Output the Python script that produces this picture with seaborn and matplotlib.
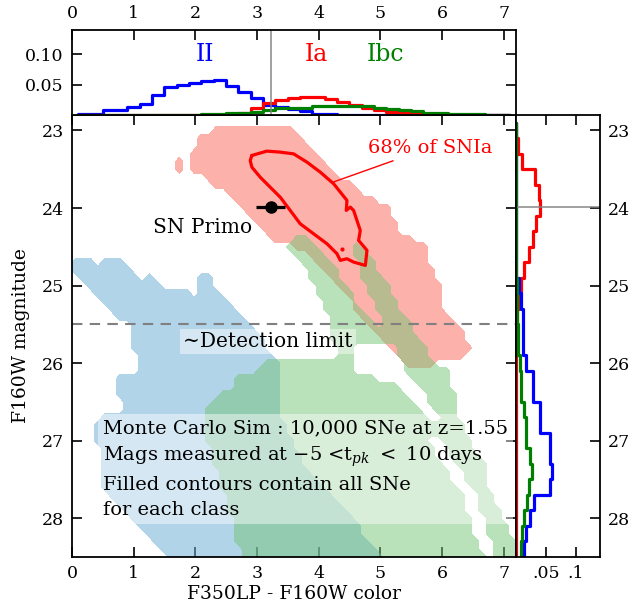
"""
Colour-magnitude plane of simulated SNe at z=1.55 with SN Primo,
plus marginal histograms of colour (top) and F160W magnitude (right).
Saves out.png
"""

import numpy as np
import matplotlib

matplotlib.use("Agg")
import matplotlib.pyplot as plt
from matplotlib.path import Path
import seaborn as sns

# ------------------------------#
# Data

# Marginal colour histogram (F350LP - F160W), bins of 0.2 mag
color_edges = np.arange(0.1, 7.15, 0.2)
ii_color = [0.0017, 0.0017, 0.008, 0.008, 0.0128, 0.018, 0.033, 0.0456, 0.050,
            0.053, 0.0556, 0.057, 0.047, 0.038, 0.028, 0.0167, 0.0139, 0.010,
            0.0067, 0.0017, 0.0008, 0.0006, 0.0004, 0.0003, 0.0002, 0.0001,
            0.0001, 0.0, 0.0, 0.0, 0.0, 0.0, 0.0, 0.0, 0.0]
ia_color = [0.0, 0.0, 0.0, 0.0, 0.0, 0.0, 0.0, 0.0, 0.0, 0.0, 0.0002, 0.0005,
            0.002, 0.004, 0.011, 0.019, 0.024, 0.028, 0.029, 0.029, 0.027,
            0.021, 0.0167, 0.012, 0.008, 0.0056, 0.003, 0.002, 0.001, 0.0005,
            0.0003, 0.0002, 0.0001, 0.0, 0.0]
ibc_color = [0.0, 0.0, 0.0, 0.0, 0.0, 0.0, 0.0, 0.0, 0.0, 0.0003, 0.001, 0.0015,
             0.003, 0.004, 0.0056, 0.009, 0.011, 0.012, 0.012, 0.014, 0.015,
             0.015, 0.0156, 0.014, 0.012, 0.010, 0.0085, 0.007, 0.004, 0.003,
             0.0017, 0.0012, 0.0008, 0.0005, 0.0003]

# Marginal F160W magnitude histogram, bins of 0.2 mag
mag_edges = np.arange(22.9, 28.55, 0.2)
ia_mag = [0.0003, 0.003, 0.010, 0.031, 0.039, 0.0405, 0.034, 0.028, 0.021,
          0.014, 0.008, 0.0045, 0.002, 0.001, 0.0008, 0.0006, 0.0005, 0.0004,
          0.0004, 0.0003, 0.0003, 0.0003, 0.0002, 0.0002, 0.0002, 0.0002,
          0.0002, 0.0002]
ii_mag = [0.0, 0.0, 0.0, 0.0, 0.0, 0.0, 0.0, 0.0, 0.0, 0.0, 0.005, 0.008,
          0.0117, 0.0117, 0.0117, 0.017, 0.029, 0.029, 0.0405, 0.0405, 0.056,
          0.056, 0.060, 0.056, 0.0295, 0.023, 0.017, 0.014]
ibc_mag = [0.0, 0.0, 0.0, 0.0, 0.0, 0.0, 0.0, 0.0, 0.0, 0.0005, 0.002, 0.002,
           0.002, 0.003, 0.003, 0.006, 0.008, 0.008, 0.014, 0.017, 0.017,
           0.023, 0.027, 0.021, 0.018, 0.014, 0.010, 0.008]

# Outlines (colour, magnitude) of the regions holding all simulated SNe
ia_regions = [
    [(1.92, 23.3), (2.1, 23.05), (2.3, 22.97), (3.55, 22.97), (3.75, 23.15),
     (4.3, 23.55), (4.6, 23.75), (5.2, 24.05), (5.25, 24.35), (5.7, 24.45),
     (5.8, 24.75), (5.95, 24.95), (6.0, 25.3), (6.3, 25.55), (6.45, 25.8),
     (6.3, 26.0), (5.9, 25.95), (5.7, 26.1), (5.45, 26.0), (5.05, 25.7),
     (4.5, 25.2), (3.85, 24.6), (3.5, 24.45), (3.2, 24.38), (3.05, 24.2),
     (2.75, 24.0), (2.45, 23.78), (2.1, 23.55), (1.92, 23.5)],
    [(1.58, 23.45), (1.72, 23.32), (1.86, 23.45), (1.72, 23.58)],
]
ii_regions = [
    [(0.05, 24.7), (0.15, 24.62), (0.35, 24.7), (0.5, 24.72), (0.65, 24.62),
     (0.75, 24.65), (1.1, 24.97), (1.3, 24.88), (1.6, 25.1), (1.85, 25.0),
     (2.0, 25.15), (2.1, 24.9), (2.2, 24.87), (2.6, 25.25), (2.9, 25.5),
     (3.2, 25.85), (3.3, 25.96), (3.4, 26.7), (3.9, 27.5), (4.4, 27.85),
     (5.2, 28.7), (1.6, 28.7), (1.5, 28.5), (1.0, 28.0), (0.45, 27.6),
     (0.4, 26.75), (0.8, 26.6), (0.75, 26.15), (1.1, 26.1), (1.1, 25.9),
     (0.95, 25.75), (0.9, 25.5), (0.05, 24.8)],
]
ibc_regions = [
    [(2.84, 28.7), (2.13, 26.78), (2.13, 26.56), (2.3, 26.5), (2.45, 26.4),
     (2.6, 26.4), (2.73, 26.14), (3.0, 26.1), (3.15, 25.96), (3.5, 25.98),
     (3.9, 25.96), (4.3, 25.9), (4.2, 25.5), (3.85, 24.85), (3.5, 24.5),
     (3.55, 24.42), (3.75, 24.38), (4.63, 24.5), (4.79, 24.55), (4.95, 24.8),
     (5.44, 25.45), (5.6, 25.65), (5.8, 25.95), (6.1, 26.1), (6.25, 26.65),
     (6.45, 27.0), (6.75, 27.35), (6.75, 27.6), (7.0, 28.0), (7.2, 28.35),
     (7.3, 28.7)],
]
ibc_gaps = [
    [(3.95, 24.45), (4.6, 24.45), (4.63, 24.8), (5.05, 25.45), (4.95, 25.55),
     (4.8, 25.45), (4.3, 24.8)],
    [(4.55, 25.75), (5.2, 25.75), (5.5, 26.2), (6.0, 26.7), (5.85, 26.75),
     (5.3, 26.3), (4.6, 26.1)],
    [(5.75, 26.95), (5.95, 26.95), (6.5, 27.6), (6.95, 28.7), (6.75, 28.7),
     (6.3, 27.7)],
]

# 68% contour of the SN Ia
ia68_color = [2.917, 3.160, 3.377, 3.593, 3.810, 4.026, 4.243, 4.459, 4.448,
              4.513, 4.567, 4.621, 4.675, 4.648, 4.784, 4.757, 4.567, 4.459,
              4.351, 4.297, 4.134, 3.918, 3.701, 3.539, 3.377, 3.214, 3.052,
              2.917, 2.890, 2.917]
ia68_mag = [23.322, 23.266, 23.279, 23.301, 23.408, 23.537, 23.687, 23.902,
            24.031, 23.988, 24.031, 24.160, 24.289, 24.418, 24.546, 24.740,
            24.697, 24.654, 24.675, 24.589, 24.460, 24.332, 24.203, 24.031,
            23.860, 23.731, 23.602, 23.473, 23.387, 23.322]

# SN Primo
primo_color, primo_color_err = 3.22, 0.23
primo_mag = 23.99
detection_limit = 25.5

# ------------------------------#
# Style

sns.set_style("ticks", {"axes.edgecolor": "black", "xtick.color": "black",
                        "ytick.color": "black", "text.color": "black",
                        "axes.labelcolor": "black"})
plt.rcParams["font.family"] = ["DejaVu Serif"]
plt.rcParams["mathtext.fontset"] = "dejavuserif"
tick_size = 12.5

fig = plt.figure(figsize=(6.31, 6.09), dpi=100)
ax = fig.add_axes([0.1141, 0.0854, 0.7036, 0.7258])
ax_top = fig.add_axes([0.1141, 0.8112, 0.7036, 0.1396])
ax_right = fig.add_axes([0.8177, 0.0854, 0.1331, 0.7258])

# ------------------------------#
# Main panel: filled regions on a coarse grid

grid_c = np.arange(-0.3, 7.6, 0.12)
grid_m = np.arange(22.6, 28.8, 0.1)
GC, GM = np.meshgrid(grid_c, grid_m)
pts = np.column_stack([GC.ravel(), GM.ravel()])


def region_mask(polys, holes=()):
    inside = np.zeros(len(pts), dtype=bool)
    for p in polys:
        inside |= Path(p).contains_points(pts)
    for h in holes:
        inside &= ~Path(h).contains_points(pts)
    return inside.reshape(GC.shape).astype(float)


ax.contourf(GC, GM, region_mask(ii_regions), levels=[0.5, 2],
            colors=["#6baed6"], alpha=0.52)
ax.contourf(GC, GM, region_mask(ia_regions), levels=[0.5, 2],
            colors=["#fa8072"], alpha=0.6)
ax.contourf(GC, GM, region_mask(ibc_regions, ibc_gaps), levels=[0.5, 2],
            colors=["#74c476"], alpha=0.5)

ax.plot(ia68_color, ia68_mag, color="red", lw=2.3)
ax.plot(4.378, 24.525, "o", color="red", ms=2)

ax.errorbar(primo_color, primo_mag, xerr=primo_color_err, fmt="o", color="k",
            ms=8, lw=2.3, capsize=0)
ax.axhline(detection_limit, ls=(0, (5, 3.5)), color="grey", lw=1.5)

ax.text(2.11, 24.25, "SN Primo", fontsize=14.5, ha="center", va="center")
ax.annotate("68% of SNIa", xy=(4.22, 23.67), xytext=(5.81, 23.22),
            fontsize=14, color="red", ha="center", va="center",
            arrowprops=dict(arrowstyle="-", color="red", lw=1,
                            shrinkA=2, shrinkB=0))
ax.text(3.18, 25.72, "\u223cDetection limit", fontsize=14.5, ha="center",
        va="center", bbox=dict(facecolor="white", alpha=0.45, edgecolor="none",
                               boxstyle="square,pad=0.15"))
ax.text(0.5, 26.72,
        "Monte Carlo Sim : 10,000 SNe at z=1.55\n"
        r"Mags measured at $-5$ <t$_{pk}$ $<$ 10 days" "\n"
        "Filled contours contain all SNe\n"
        "for each class",
        fontsize=14, ha="left", va="top", linespacing=1.5,
        bbox=dict(facecolor="white", alpha=0.45, edgecolor="none",
                  boxstyle="square,pad=0.25"))

ax.set_xlim(0, 7.2)
ax.set_ylim(28.5, 22.8)
ax.set_xticks(range(0, 8))
ax.set_yticks(range(23, 29))
ax.set_xlabel("F350LP - F160W color", fontsize=13.5, labelpad=2)
ax.set_ylabel("F160W magnitude", fontsize=13.5, labelpad=8)
ax.tick_params(direction="in", top=True, right=True, length=7, width=1.2,
               labelsize=tick_size, pad=6)


# ------------------------------#
# Marginal histograms drawn as outlines through seaborn

def step_outline(edges, vals):
    return np.repeat(edges, 2)[1:-1], np.repeat(vals, 2)


for vals, col in [(ii_color, "blue"), (ia_color, "red"), (ibc_color, "green")]:
    xs, ys = step_outline(color_edges, vals)
    sns.lineplot(x=xs, y=ys, sort=False, estimator=None, color=col, lw=2.3,
                 ax=ax_top)
ax_top.axvline(primo_color, color="grey", lw=1.3, alpha=0.8)
ax_top.text(2.16, 0.1, "II", color="blue", fontsize=17, ha="center", va="center")
ax_top.text(3.97, 0.1, "Ia", color="red", fontsize=17, ha="center", va="center")
ax_top.text(5.08, 0.1, "Ibc", color="green", fontsize=17, ha="center", va="center")
ax_top.set_xlim(0, 7.2)
ax_top.set_ylim(0, 0.14)
ax_top.set_xticks(range(0, 8))
ax_top.set_yticks([0.05, 0.10])
ax_top.set_yticklabels(["0.05", "0.10"])
ax_top.tick_params(direction="in", top=True, bottom=False, labeltop=True,
                   labelbottom=False, right=True, length=7, width=1.2,
                   labelsize=tick_size, pad=6)

for vals, col in [(ia_mag, "red"), (ii_mag, "blue"), (ibc_mag, "green")]:
    ms_, vs_ = step_outline(mag_edges, vals)
    sns.lineplot(x=vs_, y=ms_, sort=False, estimator=None, color=col, lw=2.3,
                 ax=ax_right)
ax_right.axhline(primo_mag, color="grey", lw=1.3, alpha=0.8)
ax_right.set_ylim(28.5, 22.8)
ax_right.set_xlim(0, 0.14)
ax_right.set_yticks(range(23, 29))
ax_right.set_xticks([0.05, 0.1])
ax_right.set_xticklabels([".05", ".1"])
ax_right.tick_params(direction="in", left=False, labelleft=False, right=True,
                     labelright=True, top=True, length=7, width=1.2,
                     labelsize=tick_size, pad=6)

for a in (ax_top, ax_right):
    a.set_xlabel("")
    a.set_ylabel("")
for a in (ax, ax_top, ax_right):
    for s in a.spines.values():
        s.set_linewidth(1.3)
        s.set_color("black")
        s.set_visible(True)

fig.savefig("out.png", dpi=100)
